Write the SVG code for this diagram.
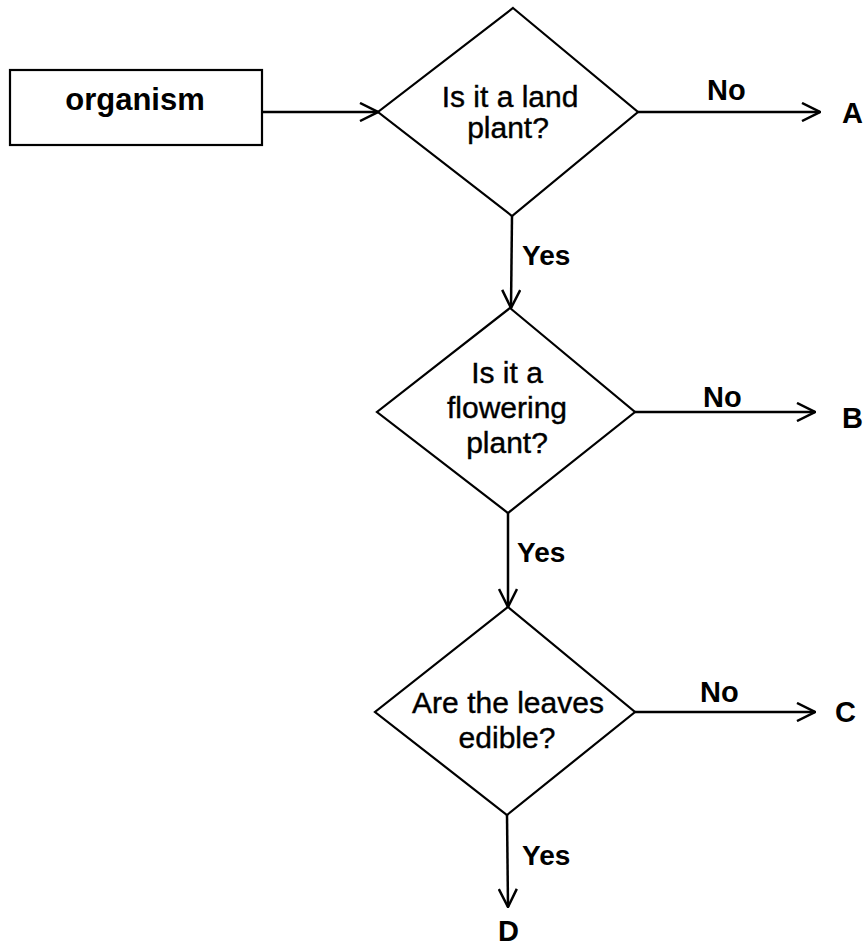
<svg xmlns="http://www.w3.org/2000/svg" width="865" height="949" viewBox="0 0 865 949">
  <style>
    .shape { fill: #ffffff; stroke: #000000; stroke-width: 2.2; }
    .conn { fill: none; stroke: #000000; stroke-width: 2.5; }
    .q { font-family: "Liberation Sans", Arial, sans-serif; font-size: 30px; fill: #000000; stroke: #000000; stroke-width: 0.4; text-anchor: middle; }
    .lbl { font-family: "Liberation Sans", Arial, sans-serif; font-size: 28px; font-weight: bold; fill: #000000; }
    .end { font-family: "Liberation Sans", Arial, sans-serif; font-size: 29px; font-weight: bold; fill: #000000; }
  </style>
  <defs>
    <marker id="arrow" viewBox="0 0 20 20" refX="19" refY="10" markerWidth="20" markerHeight="20" markerUnits="userSpaceOnUse" orient="auto">
      <path d="M1,1 L19,10 L1,19" fill="none" stroke="#000000" stroke-width="2.5"/>
    </marker>
  </defs>
  <rect width="865" height="949" fill="#ffffff"/>

  <g id="node-organism">
    <rect class="shape" x="10" y="70" width="252" height="75"/>
    <text class="q" x="135" y="110" style="font-weight:bold;font-size:31px;stroke-width:0">organism</text>
  </g>

  <g id="node-land-plant">
    <polygon class="shape" points="513,8 638,112 512,216 378,112"/>
    <text class="q" x="510" y="107">Is it a land</text>
    <text class="q" x="508" y="138">plant?</text>
  </g>

  <g id="node-flowering">
    <polygon class="shape" points="510,308 635,412 508,513 377,412"/>
    <text class="q" x="507" y="383">Is it a</text>
    <text class="q" x="507" y="418">flowering</text>
    <text class="q" x="507" y="453">plant?</text>
  </g>

  <g id="node-leaves">
    <polygon class="shape" points="508,607 635,712 507,815 375,712"/>
    <text class="q" x="508" y="713">Are the leaves</text>
    <text class="q" x="507" y="748">edible?</text>
  </g>

  <g id="connectors">
    <line class="conn" x1="262" y1="112" x2="378" y2="112" marker-end="url(#arrow)"/>
    <line class="conn" x1="638" y1="112" x2="820" y2="112" marker-end="url(#arrow)"/>
    <line class="conn" x1="512" y1="216" x2="511" y2="308" marker-end="url(#arrow)"/>
    <line class="conn" x1="635" y1="412" x2="815" y2="412" marker-end="url(#arrow)"/>
    <line class="conn" x1="508" y1="513" x2="508" y2="607" marker-end="url(#arrow)"/>
    <line class="conn" x1="635" y1="712" x2="815" y2="712" marker-end="url(#arrow)"/>
    <line class="conn" x1="507" y1="815" x2="508" y2="907" marker-end="url(#arrow)"/>
  </g>

  <g id="labels">
    <text class="lbl" x="707" y="100" style="font-size:29px">No</text>
    <text class="lbl" x="522" y="265">Yes</text>
    <text class="lbl" x="703" y="407" style="font-size:29px">No</text>
    <text class="lbl" x="517" y="562">Yes</text>
    <text class="lbl" x="700" y="702" style="font-size:29px">No</text>
    <text class="lbl" x="522" y="865">Yes</text>
  </g>

  <g id="node-A"><text class="end" x="842" y="123">A</text></g>
  <g id="node-B"><text class="end" x="842" y="428">B</text></g>
  <g id="node-C"><text class="end" x="835" y="722">C</text></g>
  <g id="node-D"><text class="end" x="498" y="941">D</text></g>
</svg>
